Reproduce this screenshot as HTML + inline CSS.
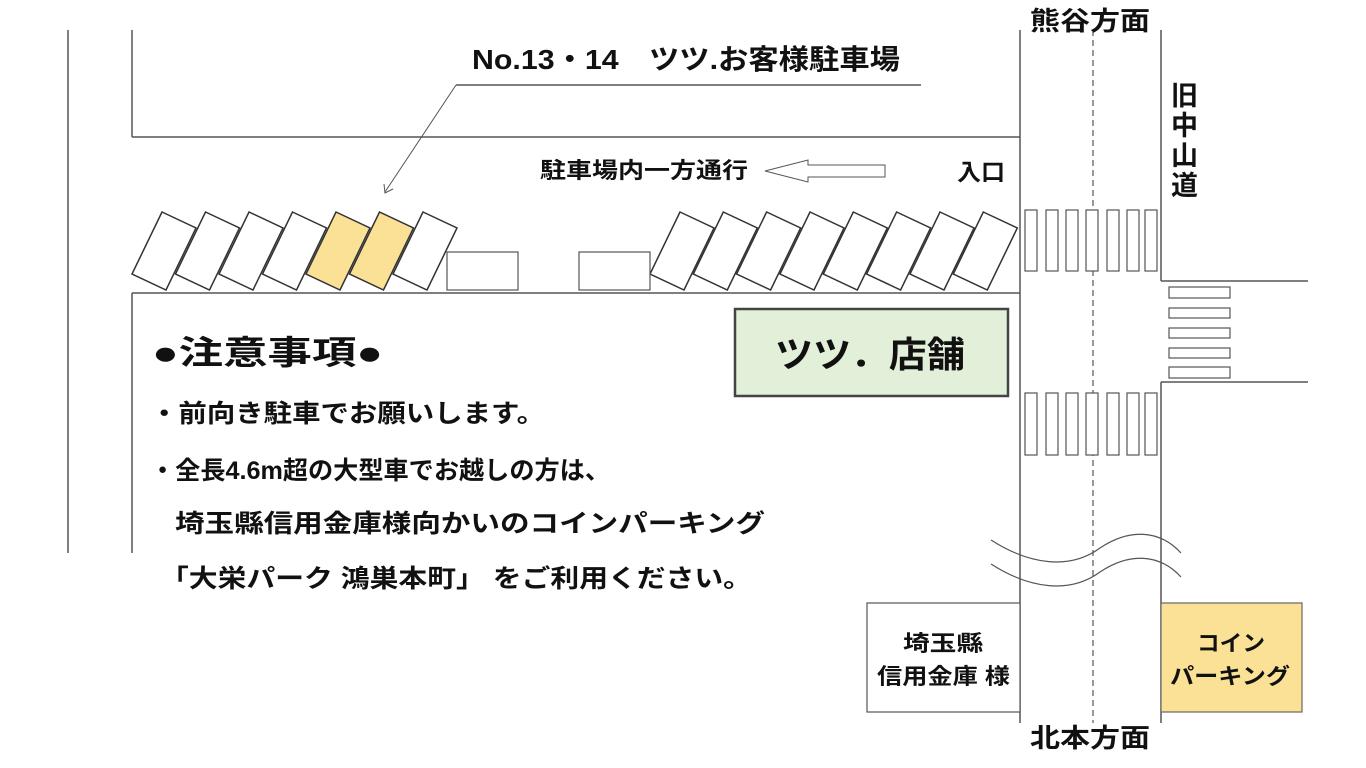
<!DOCTYPE html>
<html><head><meta charset="utf-8"><style>
html,body{margin:0;padding:0;background:#fff;width:1366px;height:768px;overflow:hidden}
svg text{font-family:"Liberation Sans","Noto Sans CJK JP",sans-serif;fill:#111}
</style></head><body>
<svg width="1366" height="768" viewBox="0 0 1366 768" xmlns="http://www.w3.org/2000/svg">
<g stroke="#555" stroke-width="1.5" fill="none">
<line x1="68" y1="30" x2="68" y2="553"/>
<line x1="132" y1="30" x2="132" y2="137"/>
<line x1="132" y1="137" x2="1020" y2="137"/>
<line x1="132" y1="293" x2="1020" y2="293"/>
<line x1="132" y1="293" x2="132" y2="553"/>
<line x1="1020" y1="30" x2="1020" y2="723"/>
<line x1="1161" y1="30" x2="1161" y2="281"/>
<line x1="1161" y1="281" x2="1308" y2="281"/>
<line x1="1161" y1="382" x2="1308" y2="382"/>
<line x1="1161" y1="382" x2="1161" y2="723"/>
<line x1="1093" y1="30" x2="1093" y2="723" stroke-dasharray="6,4" stroke-width="1.2"/>
<line x1="456" y1="85" x2="921" y2="85"/>
<line x1="456" y1="85" x2="385" y2="192" stroke-width="1"/>
<polyline points="384,184 385,193 393,189" stroke-width="1"/>
<polygon points="765,171 808,160 808,165 885,165 885,177 808,177 808,182" stroke-width="1"/>
<path d="M991,540 C1030,565 1070,570 1100,548 C1130,528 1160,530 1181,553" stroke-width="1.2"/>
<path d="M991,564 C1030,589 1070,594 1100,572 C1130,552 1160,554 1181,577" stroke-width="1.2"/>
</g>
<g stroke="#333" stroke-width="1.5" fill="#fff">
<polygon points="162,212 196,228 166,290 132,274"/>
<polygon points="205.5,212 239.5,228 209.5,290 175.5,274"/>
<polygon points="249,212 283,228 253,290 219,274"/>
<polygon points="292.5,212 326.5,228 296.5,290 262.5,274"/>
<polygon points="336,212 370,228 340,290 306,274" fill="#fbe196"/>
<polygon points="379.5,212 413.5,228 383.5,290 349.5,274" fill="#fbe196"/>
<polygon points="423,212 457,228 427,290 393,274"/>
<polygon points="680,212 714,228 684,290 650,274"/>
<polygon points="723.3,212 757.3,228 727.3,290 693.3,274"/>
<polygon points="766.6,212 800.6,228 770.6,290 736.6,274"/>
<polygon points="810,212 844,228 814,290 780,274"/>
<polygon points="853.3,212 887.3,228 857.3,290 823.3,274"/>
<polygon points="896.6,212 930.6,228 900.6,290 866.6,274"/>
<polygon points="940,212 974,228 944,290 910,274"/>
<polygon points="983.3,212 1017.3,228 987.3,290 953.3,274"/>
</g>
<g stroke="#555" stroke-width="1.2" fill="#fff">
<rect x="447" y="252" width="71" height="38"/>
<rect x="579" y="252" width="71" height="38"/>
<rect x="1025" y="210" width="12" height="61"/><rect x="1046" y="210" width="12" height="61"/><rect x="1066" y="210" width="12" height="61"/><rect x="1086" y="210" width="12" height="61"/><rect x="1107" y="210" width="12" height="61"/><rect x="1127" y="210" width="12" height="61"/><rect x="1145" y="210" width="12" height="61"/>
<rect x="1025" y="393" width="12" height="62"/><rect x="1046" y="393" width="12" height="62"/><rect x="1066" y="393" width="12" height="62"/><rect x="1086" y="393" width="12" height="62"/><rect x="1107" y="393" width="12" height="62"/><rect x="1127" y="393" width="12" height="62"/><rect x="1145" y="393" width="12" height="62"/>
<rect x="1169" y="287" width="61" height="11"/><rect x="1169" y="308" width="61" height="10"/><rect x="1169" y="328" width="61" height="10"/><rect x="1169" y="348" width="61" height="10"/><rect x="1169" y="367" width="61" height="11"/>
<rect x="867" y="603" width="153" height="109"/>
</g>
<rect x="735" y="309" width="273" height="87" fill="#e2efd9" stroke="#444" stroke-width="2.5"/>
<rect x="1161" y="603" width="141" height="109" fill="#fbe196" stroke="#666" stroke-width="1.2"/>
<g lengthAdjust="spacingAndGlyphs">
<text x="472" y="69" font-size="28" font-weight="bold" textLength="428" lengthAdjust="spacingAndGlyphs">No.13・14　ツツ.お客様駐車場</text>
<text x="540" y="178" font-size="22" font-weight="bold" textLength="208" lengthAdjust="spacingAndGlyphs">駐車場内一方通行</text>
<text x="957" y="180" font-size="23" font-weight="bold" textLength="48" lengthAdjust="spacingAndGlyphs">入口</text>
<text x="1030" y="30" font-size="26" font-weight="bold" textLength="120" lengthAdjust="spacingAndGlyphs">熊谷方面</text>
<text x="1030" y="747" font-size="26" font-weight="bold" textLength="120" lengthAdjust="spacingAndGlyphs">北本方面</text>
<g font-size="27" font-weight="bold"><text x="1171" y="105">旧</text><text x="1171" y="135">中</text><text x="1171" y="165">山</text><text x="1171" y="195">道</text></g>
<text x="152" y="364" font-size="33" font-weight="bold" textLength="231" lengthAdjust="spacingAndGlyphs">●注意事項●</text>
<g font-size="25" font-weight="bold">
<text x="150" y="422" textLength="395" lengthAdjust="spacingAndGlyphs">・前向き駐車でお願いします。</text>
<text x="150" y="479" textLength="460" lengthAdjust="spacingAndGlyphs">・全長4.6m超の大型車でお越しの方は、</text>
<text x="175" y="532" textLength="590" lengthAdjust="spacingAndGlyphs">埼玉縣信用金庫様向かいのコインパーキング</text>
<text x="160" y="587" textLength="592" lengthAdjust="spacingAndGlyphs">「大栄パーク 鴻巣本町」 をご利用ください。</text>
</g>
<text x="775" y="367" font-size="36" font-weight="bold" textLength="190" lengthAdjust="spacingAndGlyphs">ツツ．店舗</text>
<g font-size="22" font-weight="bold">
<text x="903" y="651" textLength="80" lengthAdjust="spacingAndGlyphs">埼玉縣</text><text x="877" y="684" textLength="133" lengthAdjust="spacingAndGlyphs">信用金庫 様</text>
<text x="1197" y="651" textLength="68" lengthAdjust="spacingAndGlyphs">コイン</text><text x="1170" y="684" textLength="120" lengthAdjust="spacingAndGlyphs">パーキング</text>
</g>
</g>
</svg>
</body></html>
